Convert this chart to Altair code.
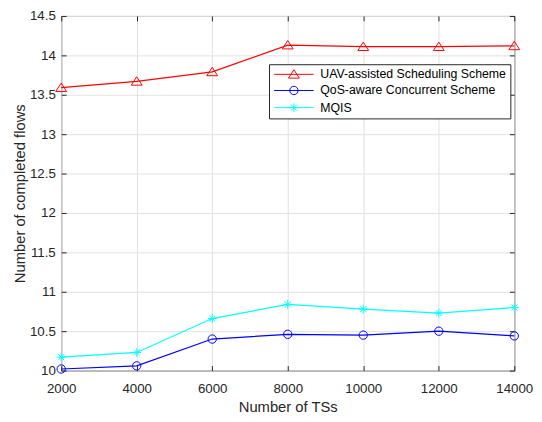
import altair as alt
import pandas as pd

# ---- data ----
ts = [2000, 4000, 6000, 8000, 10000, 12000, 14000]
uav = [13.59, 13.67, 13.79, 14.13, 14.11, 14.11, 14.12]
qos = [10.02, 10.06, 10.40, 10.46, 10.45, 10.50, 10.44]
mqis = [10.17, 10.23, 10.66, 10.84, 10.78, 10.73, 10.80]
series_names = ["UAV-assisted Scheduling Scheme", "QoS-aware Concurrent Scheme", "MQIS"]
series_colors = ["#ff0000", "#0000ff", "#00ffff"]
x_ticks = [2000, 4000, 6000, 8000, 10000, 12000, 14000]
y_ticks = [10, 10.5, 11, 11.5, 12, 12.5, 13, 13.5, 14, 14.5]

rows = []
for name, vals in zip(series_names, [uav, qos, mqis]):
    for x, y in zip(ts, vals):
        rows.append({"ts": x, "flows": y, "series": name})
df = pd.DataFrame(rows)

# marker shapes (unit box) and legend samples (line + marker)
TRI = "M0,-0.85L1,0.7L-1,0.7Z"
CIR = "M-0.77,0A0.77,0.77,0,1,1,0.77,0A0.77,0.77,0,1,1,-0.77,0Z"
AST = "M0,-0.8L0,0.8M-0.8,0L0.8,0M-0.57,-0.57L0.57,0.57M-0.57,0.57L0.57,-0.57"
LINE = "M-3.64,0L3.64,0"

FONT = "Liberation Sans"
TXT = "#262626"

xscale = alt.Scale(domain=[2000, 14000], nice=False)
yscale = alt.Scale(domain=[10, 14.5], nice=False, zero=False)
cscale = alt.Scale(domain=series_names, range=series_colors)

x_main = alt.Axis(values=x_ticks, format="d", title="Number of TSs", grid=True,
                  domain=False, ticks=True, tickSize=5, offset=-5,
                  labelPadding=11, titlePadding=5.5, labelFlush=False, labelOverlap=False)
y_main = alt.Axis(values=y_ticks, format=".1~f", title="Number of completed flows",
                  grid=True, domain=False, ticks=True, tickSize=5, offset=-5,
                  labelPadding=6, titlePadding=2, labelFlush=False, labelOverlap=False)
x_top = alt.Axis(orient="top", values=x_ticks, labels=False, title=None, grid=False,
                 domain=False, ticks=True, tickSize=5, offset=-5)
y_right = alt.Axis(orient="right", values=y_ticks, labels=False, title=None, grid=False,
                   domain=False, ticks=True, tickSize=5, offset=-5)

lines = alt.Chart(df).mark_line(strokeWidth=1.2).encode(
    x=alt.X("ts:Q", scale=xscale, axis=x_main),
    y=alt.Y("flows:Q", scale=yscale, axis=y_main),
    color=alt.Color("series:N", scale=cscale, legend=None),
    order="ts:Q",
)

points = alt.Chart(df).mark_point(filled=False, size=121, strokeWidth=1, opacity=1).encode(
    x=alt.X("ts:Q", scale=xscale, axis=x_top),
    y=alt.Y("flows:Q", scale=yscale, axis=y_right),
    color=alt.Color("series:N", scale=cscale, legend=None),
    shape=alt.Shape("series:N", scale=alt.Scale(domain=series_names, range=[TRI, CIR, AST]),
                    legend=None),
)

leg_props = dict(
    title=None, orient="none", legendX=211, legendY=49, padding=4,
    symbolOffset=15, labelOffset=20.5, rowPadding=3.4,
    strokeColor=TXT, fillColor="white", labelFont=FONT, labelFontSize=12.5,
    labelColor="#000000", symbolSize=121, symbolStrokeWidth=1, symbolOpacity=1,
    labelLimit=400,
)

legend_layer = alt.Chart(df).transform_calculate(leg="datum.series").mark_point(
    filled=False, size=121, opacity=0
).encode(
    x=alt.X("ts:Q", scale=xscale, axis=None),
    y=alt.Y("flows:Q", scale=yscale, axis=None),
    color=alt.Color("leg:N", scale=cscale, legend=alt.Legend(**leg_props)),
    shape=alt.Shape("leg:N", scale=alt.Scale(domain=series_names,
                    range=[LINE + TRI, LINE + CIR, LINE + AST]),
                    legend=alt.Legend(**leg_props)),
)

chart = alt.layer(lines, points, legend_layer).resolve_scale(
    color="independent", shape="independent"
).resolve_axis(
    x="independent", y="independent"
).properties(
    width=460, height=360,
    autosize=alt.AutoSizeParams(type="none"),
    padding={"left": 54, "top": 5, "right": 20, "bottom": 41},
    background="white",
).configure_view(
    stroke=TXT, strokeWidth=1
).configure_axis(
    labelFont=FONT, labelFontSize=13.5, labelColor=TXT,
    titleFont=FONT, titleFontSize=15, titleColor=TXT, titleFontWeight="normal",
    tickColor=TXT, tickWidth=1, gridColor="#e2e2e2", gridWidth=1,
)

chart.save("out.html", embed_options={"renderer": "svg", "actions": False})
